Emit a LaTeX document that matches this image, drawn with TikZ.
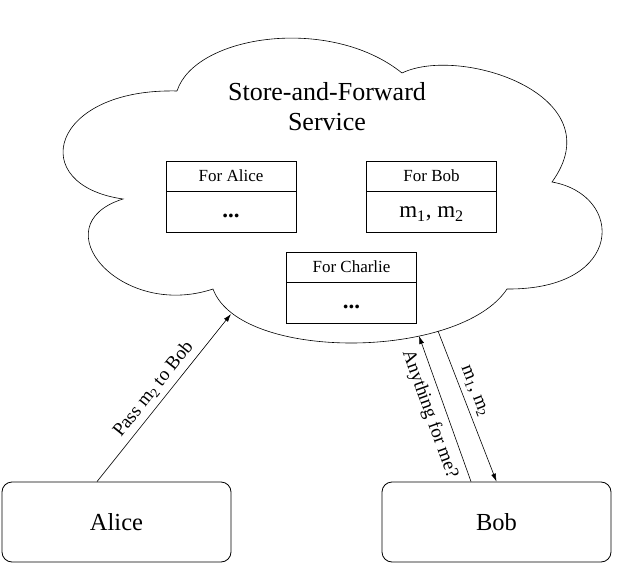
\documentclass[tikz,border=0pt]{standalone}
\usepackage{fontspec}
\setmainfont{Liberation Serif}
\usepackage{tikz}
\usetikzlibrary{arrows.meta,calc,shapes.multipart}

\newcommand{\slotfont}{\fontsize{17}{20}\selectfont}
\newcommand{\bigslotfont}{\fontsize{23}{27}\selectfont}

\begin{document}
\begin{tikzpicture}
   [x=1pt,y=-1pt,
    mailbox/.style={rectangle split, rectangle split parts=2, draw, line width=0.8pt,
	 minimum width=130pt, inner xsep=0pt, inner ysep=0pt, anchor=north},
	party/.style={draw, rounded corners=10pt, line width=0.8pt,
	 minimum width=229pt, minimum height=80pt, font=\fontsize{24.5}{29}\selectfont},
	msg/.style={-{Latex[length=8pt,width=5pt]}, line width=0.6pt},
	lbl/.style={sloped, font=\fontsize{19}{22}\selectfont}]

\useasboundingbox (0,0) rectangle (629,564);

% cloud
\draw [line width=0.6pt] (177,91) .. controls (195,35) and (330,15) .. (402,73)
	.. controls (460,45) and (615,95) .. (552,182)
	.. controls (625,195) and (625,290) .. (507,289)
	.. controls (460,360) and (240,362) .. (213,289)
	.. controls (120,320) and (40,225) .. (123,199)
	.. controls (25,185) and (50,88) .. (177,91);
\coordinate (drop) at (231,314);
\coordinate (ask) at (419,336);
\coordinate (fetch) at (438,331);

\node [align=center, font=\fontsize{26}{30}\selectfont] (title) at (327,107) {Store-and-Forward\\Service};

\node [mailbox] (foralice) at (231,161) {
\nodepart{one} \rule[-9pt]{0pt}{29pt}\slotfont For Alice
\nodepart{two} \rule[-14pt]{0pt}{40pt}\bigslotfont\textbf{...}
};
\node [mailbox] (forbob) at (431.5,161) {
\nodepart{one} \rule[-9pt]{0pt}{29pt}\slotfont For Bob
\nodepart{two} \rule[-14pt]{0pt}{40pt}\bigslotfont m\textsubscript{1}, m\textsubscript{2}
};
\node [mailbox] (forcharlie) at (351.5,252) {
\nodepart{one} \rule[-9pt]{0pt}{29pt}\slotfont For Charlie
\nodepart{two} \rule[-14pt]{0pt}{40pt}\bigslotfont\textbf{...}
};

\node [party] (alice) at (116.5,522) {Alice};
\node [party] (bob) at (496.5,522) {Bob};

\draw [msg] ([xshift=-19.5pt]alice.north) -- node [lbl,above=2pt] {Pass m\textsubscript{2} to Bob} (drop);
\draw [msg] ([xshift=-25.5pt]bob.north) -- node [lbl,below=4pt] {Anything for me?} (ask);
\draw [msg] (fetch) -- node [lbl,above=2pt,pos=0.43] {m\textsubscript{1}, m\textsubscript{2}} (bob.north);
\end{tikzpicture}
\end{document}
